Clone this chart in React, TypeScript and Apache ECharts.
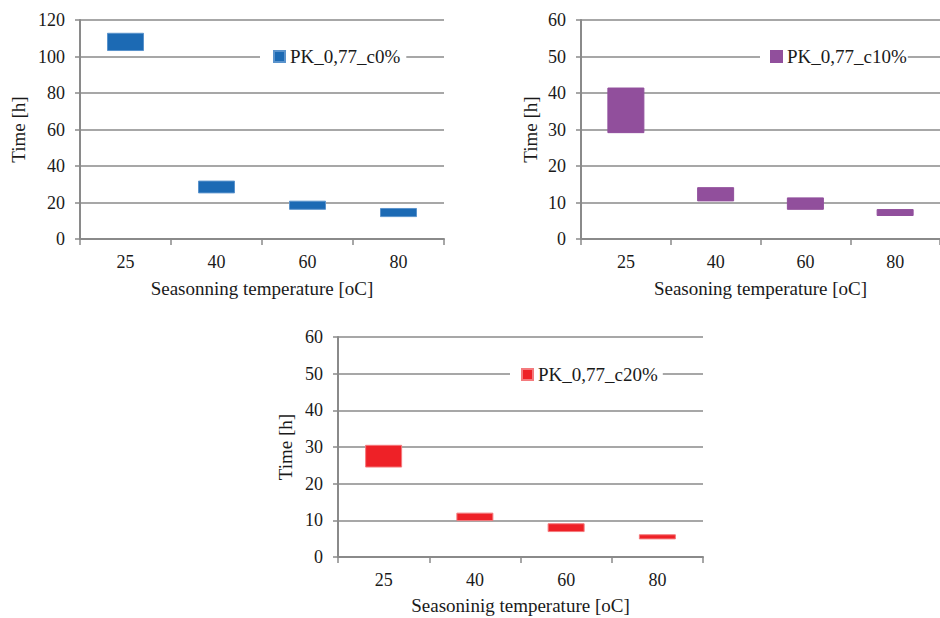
import React, { useEffect, useRef } from "react";
import * as echarts from "echarts";

const categories = ["25", "40", "60", "80"];
const c0Low = [103, 25, 16, 12];
const c0High = [113, 32, 21, 17];
const c10Low = [29, 10.3, 8, 6.3];
const c10High = [41.5, 14.2, 11.4, 8.2];
const c20Low = [24.4, 9.8, 6.8, 4.8];
const c20High = [30.6, 12.1, 9.2, 6.2];

const names = ["PK_0,77_c0%", "PK_0,77_c10%", "PK_0,77_c20%"];
const xTitles = [
  "Seasonning temperature [oC]",
  "Seasoning temperature [oC]",
  "Seasoninig temperature [oC]",
];
const yMax = [120, 60, 60];
const yInterval = [20, 10, 10];

const FONT = "serif";
const TXT = "#1a1a1a";
const GRID = "#8a8a8a";

export default function App() {
  const ref = useRef<HTMLDivElement>(null);
  useEffect(() => {
    if (!ref.current) return;
    const chart = echarts.init(ref.current, null, { renderer: "svg" });
    const lows = [c0Low, c10Low, c20Low];
    const highs = [c0High, c10High, c20High];
    const colors = ["#1c6ab4", "#914f9c", "#ee2127"];
    const borders = ["#5a93cc", "#914f9c", "#f47a7d"];
    const grids = [
      { left: 80, top: 20, width: 364, height: 219 },
      { left: 581, top: 20, width: 365, height: 219 },
      { left: 338, top: 337, width: 365, height: 220 },
    ];
    const yNameGap = [52, 41, 43];
    const xNameGap = [40, 40, 39];
    const legends = [
      { left: 260, top: 43, padding: [4, 6, 4, 13] },
      { left: 760, top: 43, padding: [4, 1, 4, 10] },
      { left: 510, top: 361, padding: [4, 5, 4, 11] },
    ];

    const series: any[] = [];
    lows.forEach((low, i) => {
      series.push({
        name: "base" + i,
        type: "bar",
        stack: "s" + i,
        xAxisIndex: i,
        yAxisIndex: i,
        barWidth: 37,
        itemStyle: { color: "transparent" },
        data: low,
        silent: true,
      });
      series.push({
        name: names[i],
        type: "bar",
        stack: "s" + i,
        xAxisIndex: i,
        yAxisIndex: i,
        barWidth: 37,
        itemStyle: { color: colors[i], borderColor: borders[i], borderWidth: 1 },
        data: highs[i].map((h, k) => +(h - low[k]).toFixed(2)),
      });
    });

    chart.setOption({
      animation: false,
      backgroundColor: "#ffffff",
      textStyle: { fontFamily: FONT, color: TXT },
      grid: grids.map((g) => ({ ...g, containLabel: false })),
      legend: legends.map((l, i) => ({
        data: [names[i]],
        left: l.left,
        top: l.top,
        padding: l.padding,
        backgroundColor: "#ffffff",
        itemWidth: 11,
        itemHeight: 11,
        icon: "rect",
        selectedMode: false,
        textStyle: { fontFamily: FONT, fontSize: 19, color: TXT },
      })),
      xAxis: grids.map((_, i) => ({
        type: "category",
        gridIndex: i,
        data: categories,
        boundaryGap: true,
        name: xTitles[i],
        nameLocation: "middle",
        nameGap: xNameGap[i],
        nameTextStyle: { fontFamily: FONT, fontSize: 19, color: TXT },
        axisLine: { show: true, lineStyle: { color: GRID, width: 2 } },
        axisTick: { show: true, length: 6, inside: false, lineStyle: { color: GRID, width: 1.5 } },
        axisLabel: { fontFamily: FONT, fontSize: 18, color: TXT, margin: 14 },
        splitLine: { show: false },
      })),
      yAxis: grids.map((_, i) => ({
        type: "value",
        gridIndex: i,
        min: 0,
        max: yMax[i],
        interval: yInterval[i],
        name: "Time [h]",
        nameLocation: "middle",
        nameRotate: 90,
        nameGap: yNameGap[i],
        nameTextStyle: { fontFamily: FONT, fontSize: 19, color: TXT },
        axisLine: { show: true, lineStyle: { color: GRID, width: 2 } },
        axisTick: { show: true, length: 5, inside: false, lineStyle: { color: GRID, width: 1.5 } },
        axisLabel: { fontFamily: FONT, fontSize: 18, color: TXT, margin: 15 },
        splitLine: { show: true, lineStyle: { color: GRID, width: 1.5 } },
      })),
      series,
    });
    return () => chart.dispose();
  }, []);
  return (
    <div
      ref={ref}
      style={{ position: "fixed", left: 0, top: 0, width: 940, height: 618, background: "#fff" }}
    />
  );
}
